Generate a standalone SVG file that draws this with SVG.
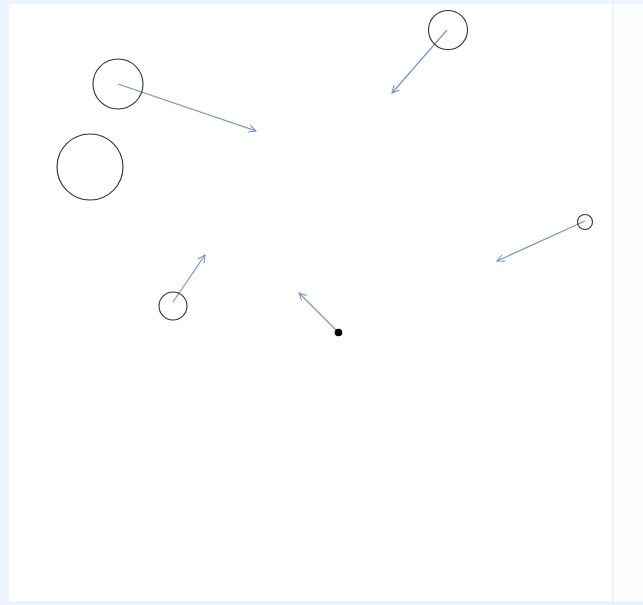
<svg xmlns="http://www.w3.org/2000/svg" width="643" height="605" viewBox="0 0 643 605">
<style>
.node{fill:none;stroke:#333;stroke-width:1.1}
.edge{stroke:#7896bb;stroke-width:1.2;fill:none;marker-end:url(#arr)}
</style>
<defs>
<marker id="arr" viewBox="0 0 10 10" refX="9" refY="5" markerWidth="9" markerHeight="9" markerUnits="userSpaceOnUse" orient="auto">
<path d="M1,1 L9,5 L1,9" fill="none" stroke="#7896bb" stroke-width="1.2"/>
</marker>
</defs>
<rect x="0" y="0" width="643" height="605" fill="#ecf5fd"/>
<rect x="612" y="4" width="31" height="597" fill="#fbfcfd"/>
<line x1="613" y1="4" x2="613" y2="601" stroke="#e6e9ec" stroke-width="1"/>
<rect x="9" y="4" width="603" height="597" fill="#ffffff"/>
<g id="connectors">
<line class="edge" x1="118" y1="84" x2="256" y2="131"/>
<line class="edge" x1="447" y1="30" x2="392" y2="93"/>
<line class="edge" x1="585" y1="221" x2="497" y2="261"/>
<line class="edge" x1="173" y1="302" x2="205" y2="255"/>
<line class="edge" x1="338" y1="332" x2="299" y2="293"/>
</g>
<g id="nodeA"><circle class="node" cx="118" cy="84" r="25"/></g>
<g id="nodeB"><circle class="node" cx="90" cy="167" r="33"/></g>
<g id="nodeC"><circle class="node" cx="448" cy="30" r="19.5"/></g>
<g id="nodeD"><circle class="node" cx="585" cy="222" r="7.5"/></g>
<g id="nodeE"><circle class="node" cx="173" cy="306" r="14"/></g>
<g id="nodeF"><circle cx="338.5" cy="332.5" r="3.8" fill="#000"/></g>
</svg>
